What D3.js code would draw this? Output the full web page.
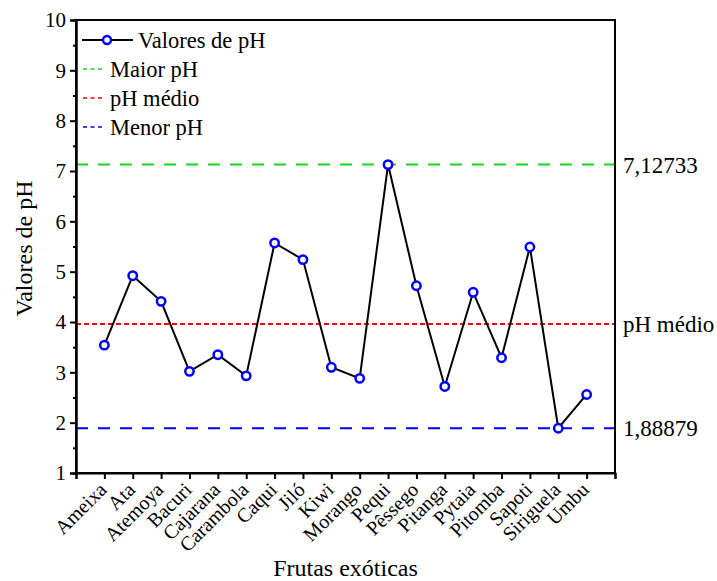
<!DOCTYPE html>
<html>
<head>
<meta charset="utf-8">
<script src="https://cdn.jsdelivr.net/npm/d3@7"></script>
<style>
  body { margin: 0; background: white; }
</style>
</head>
<body>
<div id="chart"></div>
<script>
// data
const frutas = ['Ameixa', 'Ata', 'Atemoya', 'Bacuri', 'Cajarana', 'Carambola', 'Caqui', 'Jiló', 'Kiwi',
  'Morango', 'Pequi', 'Pêssego', 'Pitanga', 'Pytaia', 'Pitomba', 'Sapoti', 'Siriguela', 'Umbu'];
const valoresPH = [3.54, 4.92, 4.41, 3.02, 3.35, 2.93, 5.57, 5.24, 3.10,
  2.88, 7.12733, 4.72, 2.72, 4.59, 3.29, 5.49, 1.88879, 2.56];
const maiorPH = 7.12733;
const menorPH = 1.88879;
const phMedio = 3.96;
const yTicks = [1, 2, 3, 4, 5, 6, 7, 8, 9, 10];
const refLabels = ['7,12733', 'pH médio', '1,88879'];
const legendLabels = ['Valores de pH', 'Maior pH', 'pH médio', 'Menor pH'];

const W = 717, H = 581;
const margin = { top: 20, right: 102, bottom: 108, left: 76 };
const width = W - margin.left - margin.right;
const height = H - margin.top - margin.bottom;

const FONT = '"Liberation Serif", "Times New Roman", "DejaVu Serif", serif';
const colors = { green: '#1fd21f', red: '#ff0000', blue: '#0000ff' };

let svg = d3.select('#chart').append('svg')
  .attr('width', W)
  .attr('height', H)
  .style('font-family', FONT)
  .append('g')
  .attr('transform', `translate(${margin.left},${margin.top})`);

// scales: categories sit at 1..18, axis runs 0..19
let x = d3.scaleLinear().domain([0, frutas.length + 1]).range([0, width]);
let y = d3.scaleLinear().domain([1, 10]).range([height, 0]);

// reference lines
let refs = [
  { v: maiorPH, color: colors.green, dash: '12,10', label: refLabels[0] },
  { v: phMedio, color: colors.red, dash: '5,3', label: refLabels[1] },
  { v: menorPH, color: colors.blue, dash: '12,10', label: refLabels[2] }
];

svg.selectAll('.ref-line')
  .data(refs)
  .enter().append('line')
  .attr('class', 'ref-line')
  .attr('x1', 0)
  .attr('x2', width)
  .attr('y1', d => y(d.v))
  .attr('y2', d => y(d.v))
  .attr('stroke', d => d.color)
  .attr('stroke-width', 2)
  .attr('stroke-dasharray', d => d.dash);

svg.selectAll('.ref-label')
  .data(refs)
  .enter().append('text')
  .attr('class', 'ref-label')
  .attr('x', width + 8)
  .attr('y', d => y(d.v))
  .attr('dy', '0.35em')
  .attr('font-size', 23)
  .text(d => d.label);

// data line + markers
let line = d3.line()
  .x((d, i) => x(i + 1))
  .y(d => y(d));

svg.append('path')
  .datum(valoresPH)
  .attr('d', line)
  .attr('fill', 'none')
  .attr('stroke', '#000')
  .attr('stroke-width', 2);

svg.selectAll('.marker')
  .data(valoresPH)
  .enter().append('circle')
  .attr('class', 'marker')
  .attr('cx', (d, i) => x(i + 1))
  .attr('cy', d => y(d))
  .attr('r', 4.2)
  .attr('fill', 'white')
  .attr('stroke', colors.blue)
  .attr('stroke-width', 2.5);

// axes
let yAxis = d3.axisLeft(y).tickValues(yTicks).tickSize(6).tickPadding(4).tickFormat(d3.format('d'));
let yMinor = d3.axisLeft(y).tickValues(d3.range(1.5, 10, 1)).tickSize(3).tickFormat('');

let gy = svg.append('g').call(yAxis);
gy.selectAll('text').attr('font-size', 21);
svg.append('g').call(yMinor);

let xAxis = d3.axisBottom(x).tickValues(d3.range(0, frutas.length + 2)).tickSize(6)
  .tickFormat(d => (d >= 1 && d <= frutas.length) ? frutas[d - 1] : '');
let gx = svg.append('g')
  .attr('transform', `translate(0,${height})`)
  .call(xAxis);
gx.selectAll('text')
  .attr('font-size', 20)
  .attr('text-anchor', 'end')
  .attr('x', 0)
  .attr('y', 0)
  .attr('dy', 0)
  .attr('transform', 'translate(3,18) rotate(-45)');

svg.selectAll('g').attr('font-family', FONT);
svg.selectAll('.domain, .tick line').attr('stroke', '#000').attr('stroke-width', 2);

// frame (top + right)
svg.append('rect')
  .attr('width', width)
  .attr('height', height)
  .attr('fill', 'none')
  .attr('stroke', '#000')
  .attr('stroke-width', 2);

// axis titles
svg.append('text')
  .attr('transform', `translate(-44,${height / 2 + 2}) rotate(-90)`)
  .attr('text-anchor', 'middle')
  .attr('font-size', 24)
  .text('Valores de pH');

svg.append('text')
  .attr('x', width / 2)
  .attr('y', height + 103)
  .attr('text-anchor', 'middle')
  .attr('font-size', 24)
  .text('Frutas exóticas');

// legend
let legend = svg.append('g').attr('transform', 'translate(6,20)');
let legendItems = [
  { label: legendLabels[0], color: '#000', type: 'marker' },
  { label: legendLabels[1], color: colors.green, type: 'dash' },
  { label: legendLabels[2], color: colors.red, type: 'dash' },
  { label: legendLabels[3], color: colors.blue, type: 'dash' }
];

legendItems.forEach((d, i) => {
  let g = legend.append('g').attr('transform', `translate(0,${i * 29})`);
  if (d.type === 'marker') {
    g.append('line').attr('x1', 0).attr('x2', 51).attr('y1', 0).attr('y2', 0)
      .attr('stroke', '#000').attr('stroke-width', 2);
    g.append('circle').attr('cx', 25).attr('cy', 0).attr('r', 4)
      .attr('fill', 'white').attr('stroke', colors.blue).attr('stroke-width', 2.5);
    g.append('text').attr('x', 56).attr('y', 0).attr('dy', '0.35em')
      .attr('font-size', 22.5).text(d.label);
  } else {
    g.append('line').attr('x1', 1).attr('x2', 23).attr('y1', 0).attr('y2', 0)
      .attr('stroke', d.color).attr('stroke-width', 1.5).attr('stroke-dasharray', '4,3.5');
    g.append('text').attr('x', 28).attr('y', 0).attr('dy', '0.35em')
      .attr('font-size', 22.5).text(d.label);
  }
});
</script>
</body>
</html>
